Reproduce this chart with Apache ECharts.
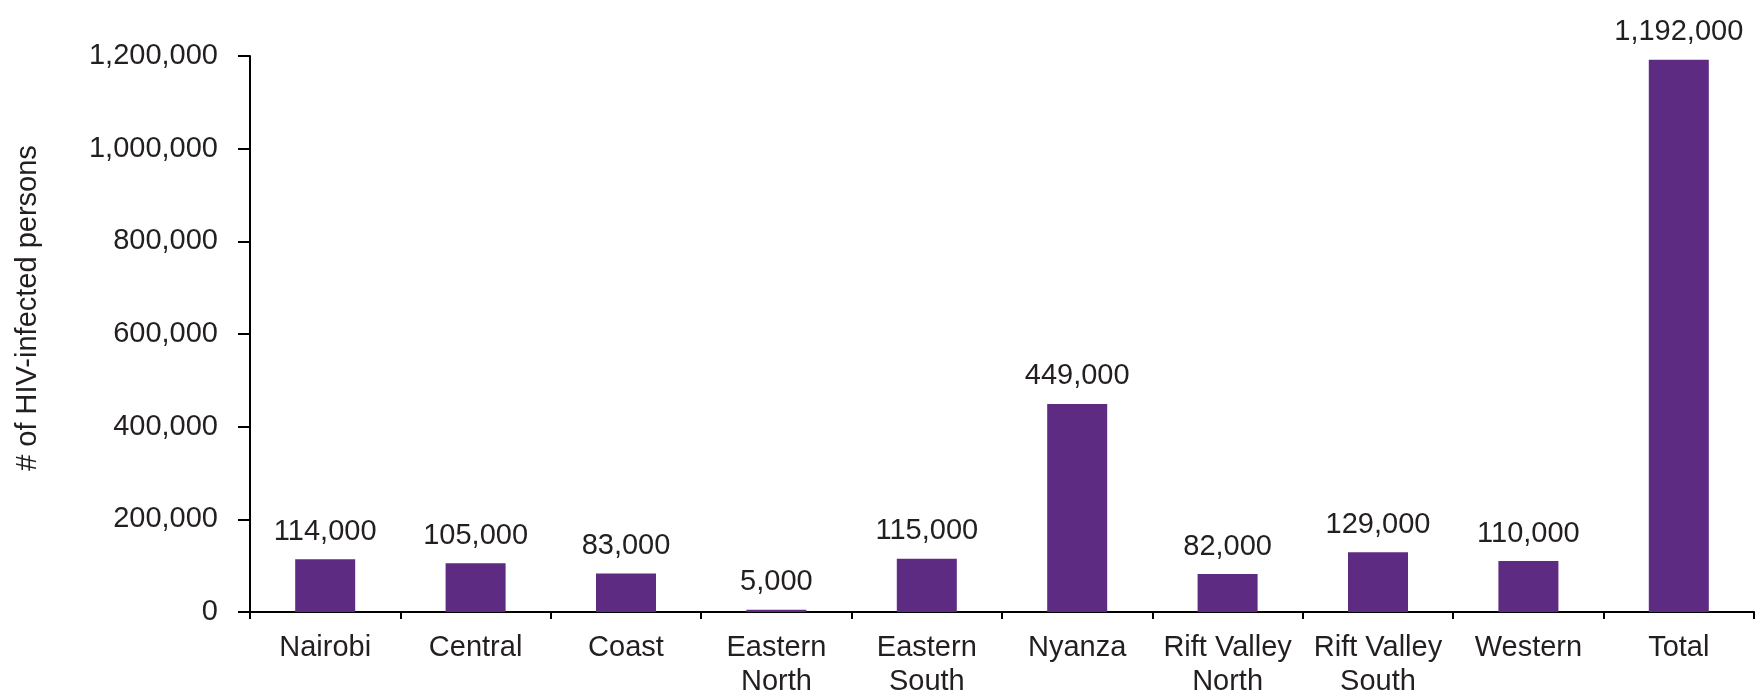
<!DOCTYPE html>
<html><head><meta charset="utf-8">
<script src="https://cdn.jsdelivr.net/npm/echarts@6/dist/echarts.min.js"></script>
<style>html,body{margin:0;padding:0;background:#fff}#c{width:1763px;height:693px}</style>
</head><body><div id="c"></div>
<script>
const categories = ["Nairobi","Central","Coast","Eastern\nNorth","Eastern\nSouth","Nyanza","Rift Valley\nNorth","Rift Valley\nSouth","Western","Total"];
const values = [114000,105000,83000,5000,115000,449000,82000,129000,110000,1192000];
const yTicks = [0,200000,400000,600000,800000,1000000,1200000];
const yTitle = "# of HIV-infected persons";
const fmt = v => v.toLocaleString('en-US');
const chart = echarts.init(document.getElementById('c'));
const font = "'Liberation Sans', Arial, sans-serif";
chart.setOption({
  animation:false,
  grid:{left:250,right:9,top:56,bottom:81,outerBoundsMode:'none',containLabel:false},
  xAxis:{type:'category',data:categories,
    axisLine:{lineStyle:{color:'#000',width:2}},
    axisTick:{show:true,alignWithLabel:false,length:7,lineStyle:{color:'#000',width:2}},
    axisLabel:{color:'#231f20',fontSize:29,fontFamily:font,margin:19,lineHeight:34,interval:0}},
  yAxis:{type:'value',min:yTicks[0],max:yTicks[yTicks.length-1],interval:200000,
    name:yTitle,nameLocation:'middle',nameGap:208,nameRotate:90,
    nameTextStyle:{color:'#231f20',fontSize:29,fontFamily:font,padding:[0,0,0,52]},
    axisLine:{show:true,lineStyle:{color:'#000',width:2}},
    axisTick:{show:true,length:12,lineStyle:{color:'#000',width:2}},
    splitLine:{show:false},
    axisLabel:{color:'#231f20',fontSize:29,fontFamily:font,margin:32,formatter:fmt}},
  series:[{type:'bar',data:values,barWidth:60,
    itemStyle:{color:'#5e2b83'},
    label:{show:true,position:'top',distance:13,color:'#231f20',fontSize:29,fontFamily:font,formatter:p=>fmt(p.value)}}]
});
</script></body></html>
